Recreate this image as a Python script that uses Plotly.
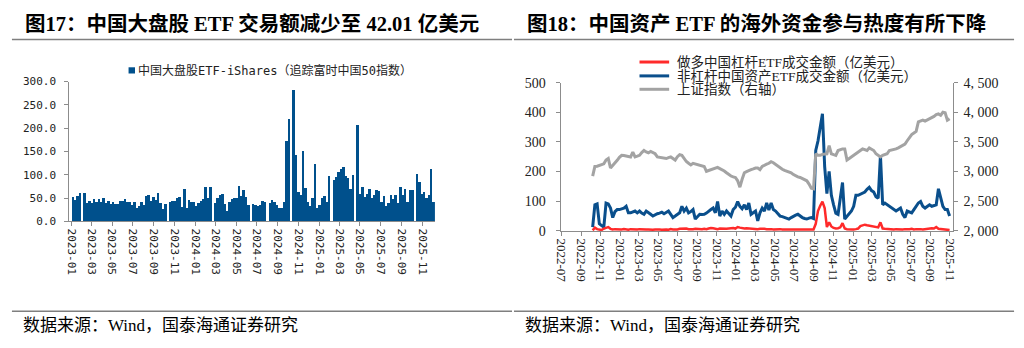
import pandas as pd
import plotly.graph_objects as go

W, H = 1024, 348

# ---------------- Left chart data (weekly turnover, 亿美元) ----------------
bar_start = "2023-01-06"
bar_values = [
    52, 46, 56, 62, 0, 62, 41, 44, 40, 48,
    43, 49, 43, 50, 40, 44, 38, 42, 37, 38,
    45, 44, 48, 42, 43, 35, 42, 30, 33, 42,
    35, 56, 58, 45, 52, 46, 62, 40, 27, 38,
    0, 42, 44, 45, 50, 54, 32, 70, 30, 47,
    43, 42, 33, 40, 44, 48, 74, 50, 74, 0,
    40, 51, 57, 60, 38, 23, 43, 48, 50, 51,
    76, 55, 68, 53, 36, 0, 38, 35, 34, 36,
    44, 43, 0, 40, 46, 43, 36, 29, 29, 42,
    174, 220, 0, 283, 143, 63, 57, 151, 72, 43,
    34, 50, 125, 29, 35, 50, 55, 43, 99, 0,
    89, 96, 106, 113, 117, 99, 94, 70, 100, 0,
    208, 59, 74, 53, 60, 70, 50, 57, 69, 67,
    43, 55, 34, 41, 57, 48, 57, 40, 75, 57,
    70, 43, 68, 68, 0, 103, 85, 60, 64, 50,
    57, 113, 42.01,
]
bar_name = "中国大盘股ETF-iShares（追踪富时中国50指数）"
left_yticks = [0, 50, 100, 150, 200, 250, 300]

# ---------------- Right chart data (weekly) ----------------
line_start = "2022-10-07"
lev_long = [
    2, 11, 6, 4, 3, 8, 11, 13, 7, 5,
    6, 5, 4, 5, 6, 5, 4, 6, 5, 4,
    5, 6, 5, 4, 5, 5, 4, 4, 5, 6,
    5, 4, 5, 5, 4, 6, 5, 4, 5, 7,
    8, 9, 8, 6, 5, 6, 7, 6, 5, 6,
    7, 6, 8, 10, 9, 7, 6, 8, 7, 6,
    7, 8, 9, 10, 8, 13, 11, 9, 8, 9,
    8, 7, 8, 7, 6, 7, 8, 7, 6, 7,
    6, 5, 6, 5, 6, 5, 5, 4, 5, 6,
    5, 6, 5, 4, 5, 5, 4, 5, 6, 5,
    24, 67, 85, 99, 77, 13, 29, 15, 10, 8,
    9, 12, 26, 8, 6, 5, 6, 5, 6, 8,
    16, 18, 21, 19, 18, 16, 15, 14, 12, 29,
    8, 7, 6, 5, 6, 5, 6, 5, 4, 5,
    6, 5, 6, 7, 5, 6, 7, 6, 5, 6,
    8, 7, 9, 8, 13, 7, 6, 5, 5, 4,
    3,
]
non_lev = [
    13, 88, 91, 24, 18, 13, 94, 91, 77, 45,
    65, 72, 72, 75, 77, 83, 61, 61, 63, 67,
    61, 67, 60, 56, 67, 60, 56, 50, 55, 58,
    60, 63, 58, 62, 67, 56, 45, 50, 55, 61,
    83, 67, 77, 61, 65, 72, 40, 50, 56, 55,
    56, 60, 67, 72, 77, 61, 99, 50, 67, 56,
    67, 60, 50, 72, 80, 99, 83, 75, 88, 72,
    94, 56, 62, 67, 34, 61, 77, 67, 94, 70,
    94, 72, 67, 58, 50, 48, 45, 42, 40, 45,
    50, 53, 56, 50, 45, 42, 40, 43, 45, 42,
    271, 303, 346, 395, 217, 126, 201, 120, 88, 60,
    56, 110, 163, 40, 50, 56, 67, 83, 120, 120,
    124, 126, 131, 140, 147, 136, 131, 115, 110, 255,
    88, 94, 88, 83, 78, 72, 67, 72, 77, 56,
    45, 67, 64, 61, 72, 85, 94, 99, 83, 77,
    82, 88, 83, 85, 88, 142, 110, 83, 72, 72,
    50,
]
sse_index = [
    2925, 3086, 3090, 3100, 3115, 3130, 3194, 3220, 3060, 3100,
    3140, 3190, 3240, 3274, 3270, 3263, 3250, 3247, 3328, 3247,
    3260, 3274, 3320, 3355, 3330, 3317, 3339, 3320, 3300, 3247,
    3240, 3237, 3230, 3220, 3235, 3247, 3220, 3194, 3250, 3285,
    3274, 3220, 3170, 3140, 3113, 3140, 3130, 3120, 3113, 3100,
    3086, 3005, 3020, 3030, 3040, 3055, 3070, 3050, 3032, 3010,
    2980, 2950, 2925, 2910, 2900, 2845, 2737, 2870, 2980, 3000,
    3020, 3032, 3045, 3060, 3060, 3032, 3086, 3110, 3125, 3140,
    3167, 3150, 3120, 3090, 3060, 3040, 3020, 3005, 2990, 2980,
    2950, 2925, 2910, 2900, 2880, 2860, 2845, 2790, 2720, 2710,
    3300, 3274, 3274, 3290, 3300, 3300, 3435, 3300, 3285, 3274,
    3355, 3370, 3382, 3382, 3194, 3220, 3250, 3274, 3300, 3330,
    3355, 3382, 3370, 3355, 3400, 3380, 3355, 3300, 3280, 3247,
    3274, 3285, 3300, 3355, 3360, 3365, 3382, 3400, 3420, 3440,
    3462, 3520, 3570, 3624, 3650, 3677, 3839, 3850, 3866, 3850,
    3870, 3880, 3900, 3930, 3960, 3973, 3950, 4000, 3990, 3866,
    3892,
]
series_names = [
    "做多中国杠杆ETF成交金额（亿美元）",
    "非杠杆中国资产ETF成交金额（亿美元）",
    "上证指数（右轴）",
]
right_y2_ticks = [2000, 2500, 3000, 3500, 4000, 4500]
right_y2_text = ["2, 000", "2, 500", "3, 000", "3, 500", "4, 000", "4, 500"]

titles = [
    "图17：中国大盘股 ETF 交易额减少至 42.01 亿美元",
    "图18：中国资产 ETF 的海外资金参与热度有所下降",
]
source = "数据来源：Wind，国泰海通证券研究"

# ---------------- helpers ----------------
def px(x):
    return x / W

def py(y):
    return 1 - y / H

bar_dates = pd.date_range(bar_start, periods=len(bar_values), freq="7D")
line_dates = pd.date_range(line_start, periods=len(non_lev), freq="7D")

BLUE = "#00508C"
RED = "#FF2A2A"
GRAY = "#A3A3A3"
AXIS = "#8C8C8C"

mono = "DejaVu Sans Mono, Noto Sans CJK SC"
serif = "Liberation Serif, Noto Sans CJK SC"

fig = go.Figure()

fig.add_trace(go.Bar(
    x=bar_dates, y=bar_values, name=bar_name,
    marker=dict(color=BLUE, line=dict(width=0)),
    width=[7.2 * 86400000] * len(bar_values),
    xaxis="x", yaxis="y", showlegend=False,
))

fig.add_trace(go.Scatter(
    x=line_dates, y=non_lev, name=series_names[1], mode="lines",
    line=dict(color="#0A4F8C", width=3), xaxis="x2", yaxis="y2", showlegend=False,
))
fig.add_trace(go.Scatter(
    x=line_dates, y=lev_long, name=series_names[0], mode="lines",
    line=dict(color=RED, width=2.5), xaxis="x2", yaxis="y2", showlegend=False,
))
fig.add_trace(go.Scatter(
    x=line_dates, y=sse_index, name=series_names[2], mode="lines",
    line=dict(color=GRAY, width=3), xaxis="x2", yaxis="y3", showlegend=False,
))

common_axis = dict(showgrid=False, zeroline=False, showline=True, linecolor=AXIS,
                   linewidth=1, ticks="outside", ticklen=4, tickcolor=AXIS)

fig.update_layout(
    width=W, height=H, autosize=False,
    margin=dict(l=0, r=0, t=0, b=0),
    paper_bgcolor="white", plot_bgcolor="white",
    showlegend=False, bargap=0,
    xaxis=dict(
        domain=[px(63), px(433)], type="date",
        range=["2022-12-26", "2025-12-08"],
        tick0="2023-01-01", dtick="M2", tickformat="%Y-%m", tickangle=90,
        tickfont=dict(family=mono, size=11, color="#222"),
        anchor="y", **common_axis,
    ),
    yaxis=dict(
        domain=[py(224), py(78)], range=[0, 300],
        tickvals=left_yticks, tickformat=".1f",
        tickfont=dict(family=mono, size=11, color="#222"),
        anchor="x", ticklabelstandoff=6, **common_axis,
    ),
    xaxis2=dict(
        domain=[px(561), px(957)], type="date",
        range=["2022-07-01", "2025-11-10"],
        tick0="2022-07-01", dtick="M2", tickformat="%Y-%m", tickangle=90,
        tickfont=dict(family=serif, size=13, color="#222"),
        anchor="y2", **common_axis,
    ),
    yaxis2=dict(
        domain=[py(234), py(79)], range=[0, 500], dtick=100,
        tickfont=dict(family=serif, size=14, color="#222"),
        anchor="x2", ticklabelstandoff=8, **common_axis,
    ),
    yaxis3=dict(
        overlaying="y2", side="right", anchor="x2", range=[2000, 4500],
        tickvals=right_y2_ticks, ticktext=right_y2_text,
        tickfont=dict(family=serif, size=14, color="#222"),
        ticklabelstandoff=3, **common_axis,
    ),
)

shapes = []
# header / footer rules
for x0, x1 in [(5, 511), (513, 1019)]:
    shapes.append(dict(type="line", xref="paper", yref="paper",
                       x0=px(x0), x1=px(x1), y0=py(34), y1=py(34),
                       line=dict(color="#7F7F7F", width=1.5)))
    shapes.append(dict(type="line", xref="paper", yref="paper",
                       x0=px(x0), x1=px(x1), y0=py(318), y1=py(318),
                       line=dict(color="#7F7F7F", width=1.5)))
# left legend square
shapes.append(dict(type="rect", xref="paper", yref="paper",
                   x0=px(123), x1=px(129.5), y0=py(69.5), y1=py(63),
                   fillcolor=BLUE, line=dict(width=0)))
# right legend lines
for yy, col in [(57.5, RED), (72, "#0A4F8C"), (86, GRAY)]:
    shapes.append(dict(type="line", xref="paper", yref="paper",
                       x0=px(640), x1=px(670), y0=py(yy), y1=py(yy),
                       line=dict(color=col, width=3)))

annotations = []
for xx, t in [(16, titles[0]), (524, titles[1])]:
    annotations.append(dict(x=px(xx), y=py(17), xref="paper", yref="paper",
                            xanchor="left", yanchor="middle", showarrow=False,
                            text=f"<b>{t}</b>",
                            font=dict(family=serif, size=20.5, color="#000")))
for xx in [14, 522]:
    annotations.append(dict(x=px(xx), y=py(333), xref="paper", yref="paper",
                            xanchor="left", yanchor="middle", showarrow=False,
                            text=source,
                            font=dict(family=serif, size=17, color="#000")))
annotations.append(dict(x=px(131), y=py(66), xref="paper", yref="paper",
                        xanchor="left", yanchor="middle", showarrow=False,
                        text=bar_name,
                        font=dict(family=mono, size=12, color="#222")))
for yy, t in [(57.5, series_names[0]), (72, series_names[1]), (86, series_names[2])]:
    annotations.append(dict(x=px(676), y=py(yy), xref="paper", yref="paper",
                            xanchor="left", yanchor="middle", showarrow=False,
                            text=t,
                            font=dict(family=serif, size=13.5, color="#222")))

fig.update_layout(shapes=shapes, annotations=annotations)

fig.write_html("out.html", config={"displayModeBar": False})
